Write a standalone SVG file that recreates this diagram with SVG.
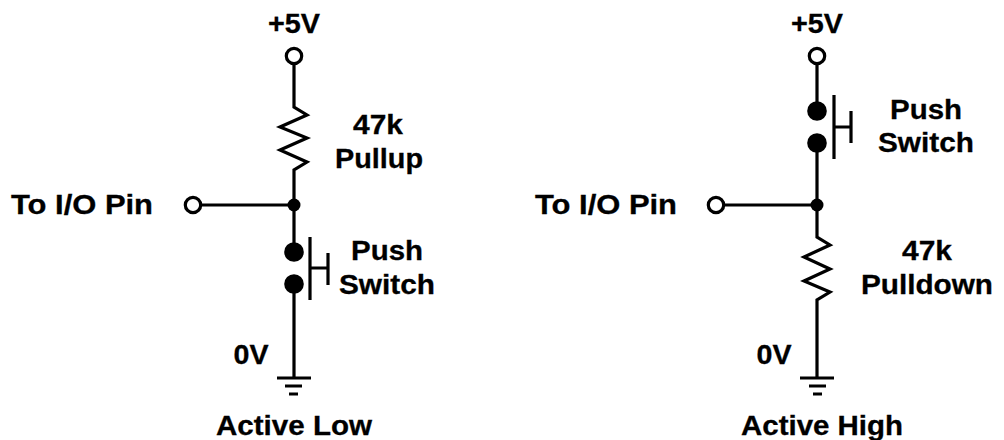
<svg xmlns="http://www.w3.org/2000/svg" width="1004" height="440" viewBox="0 0 1004 440">
<style>
.w{fill:none;stroke:#000;stroke-width:3.2;stroke-linejoin:miter}
.o{fill:#fff;stroke:#000;stroke-width:3.2}
.d{fill:#000}
text{font-family:"Liberation Sans",Arial,sans-serif;font-weight:bold;font-size:27px;fill:#000;stroke:#000;stroke-width:.3;text-anchor:middle}
</style>
<rect width="1004" height="440" fill="#fff"/>
<g id="connectors">
<path class="w" d="M294 64V107L307 115L280 127L307 138L280 150L307 162L294 170V252M201 205H294M294 284V378"/>
<path class="w" d="M817 64V111M817 143V237L830 245L804 257L830 269L804 281L830 292L817 300V378M724 205H817"/>
</g>
<g id="left-vcc"><circle class="o" cx="294" cy="56" r="7.7"/><text x="294" y="33" textLength="52" lengthAdjust="spacingAndGlyphs">+5V</text></g>
<g id="left-r"><text x="378" y="134" textLength="50" lengthAdjust="spacingAndGlyphs">47k</text><text x="379" y="168" textLength="88" lengthAdjust="spacingAndGlyphs">Pullup</text></g>
<g id="left-pin"><circle class="o" cx="193" cy="205" r="7.7"/><circle class="d" cx="294" cy="205" r="6.5"/><text x="82" y="214" textLength="142" lengthAdjust="spacingAndGlyphs">To I/O Pin</text></g>
<g id="left-switch"><circle class="d" cx="294" cy="252" r="9.8"/><circle class="d" cx="294" cy="284" r="9.8"/><path class="w" d="M310 237V300M310 268H328M328 253V285"/><text x="387" y="260" textLength="72" lengthAdjust="spacingAndGlyphs">Push</text><text x="387" y="294" textLength="96" lengthAdjust="spacingAndGlyphs">Switch</text></g>
<g id="left-gnd"><path class="w" d="M277 378H311M285 386H302M289 394H298"/><text x="251" y="364" textLength="35" lengthAdjust="spacingAndGlyphs">0V</text></g>
<text x="294" y="435" textLength="156" lengthAdjust="spacingAndGlyphs">Active Low</text>
<g id="right-vcc"><circle class="o" cx="817" cy="56" r="7.7"/><text x="817" y="33" textLength="52" lengthAdjust="spacingAndGlyphs">+5V</text></g>
<g id="right-switch"><circle class="d" cx="817" cy="111" r="9.8"/><circle class="d" cx="817" cy="143" r="9.8"/><path class="w" d="M834 95V159M834 127H851M851 111V143"/><text x="926" y="119" textLength="72" lengthAdjust="spacingAndGlyphs">Push</text><text x="926" y="152" textLength="96" lengthAdjust="spacingAndGlyphs">Switch</text></g>
<g id="right-pin"><circle class="o" cx="716" cy="205" r="7.7"/><circle class="d" cx="817" cy="205" r="6.5"/><text x="606" y="214" textLength="142" lengthAdjust="spacingAndGlyphs">To I/O Pin</text></g>
<g id="right-r"><text x="927" y="260" textLength="50" lengthAdjust="spacingAndGlyphs">47k</text><text x="927" y="294" textLength="132" lengthAdjust="spacingAndGlyphs">Pulldown</text></g>
<g id="right-gnd"><path class="w" d="M800 378H834M809 386H826M813 394H822"/><text x="774" y="364" textLength="35" lengthAdjust="spacingAndGlyphs">0V</text></g>
<text x="822" y="435" textLength="162" lengthAdjust="spacingAndGlyphs">Active High</text>
</svg>
